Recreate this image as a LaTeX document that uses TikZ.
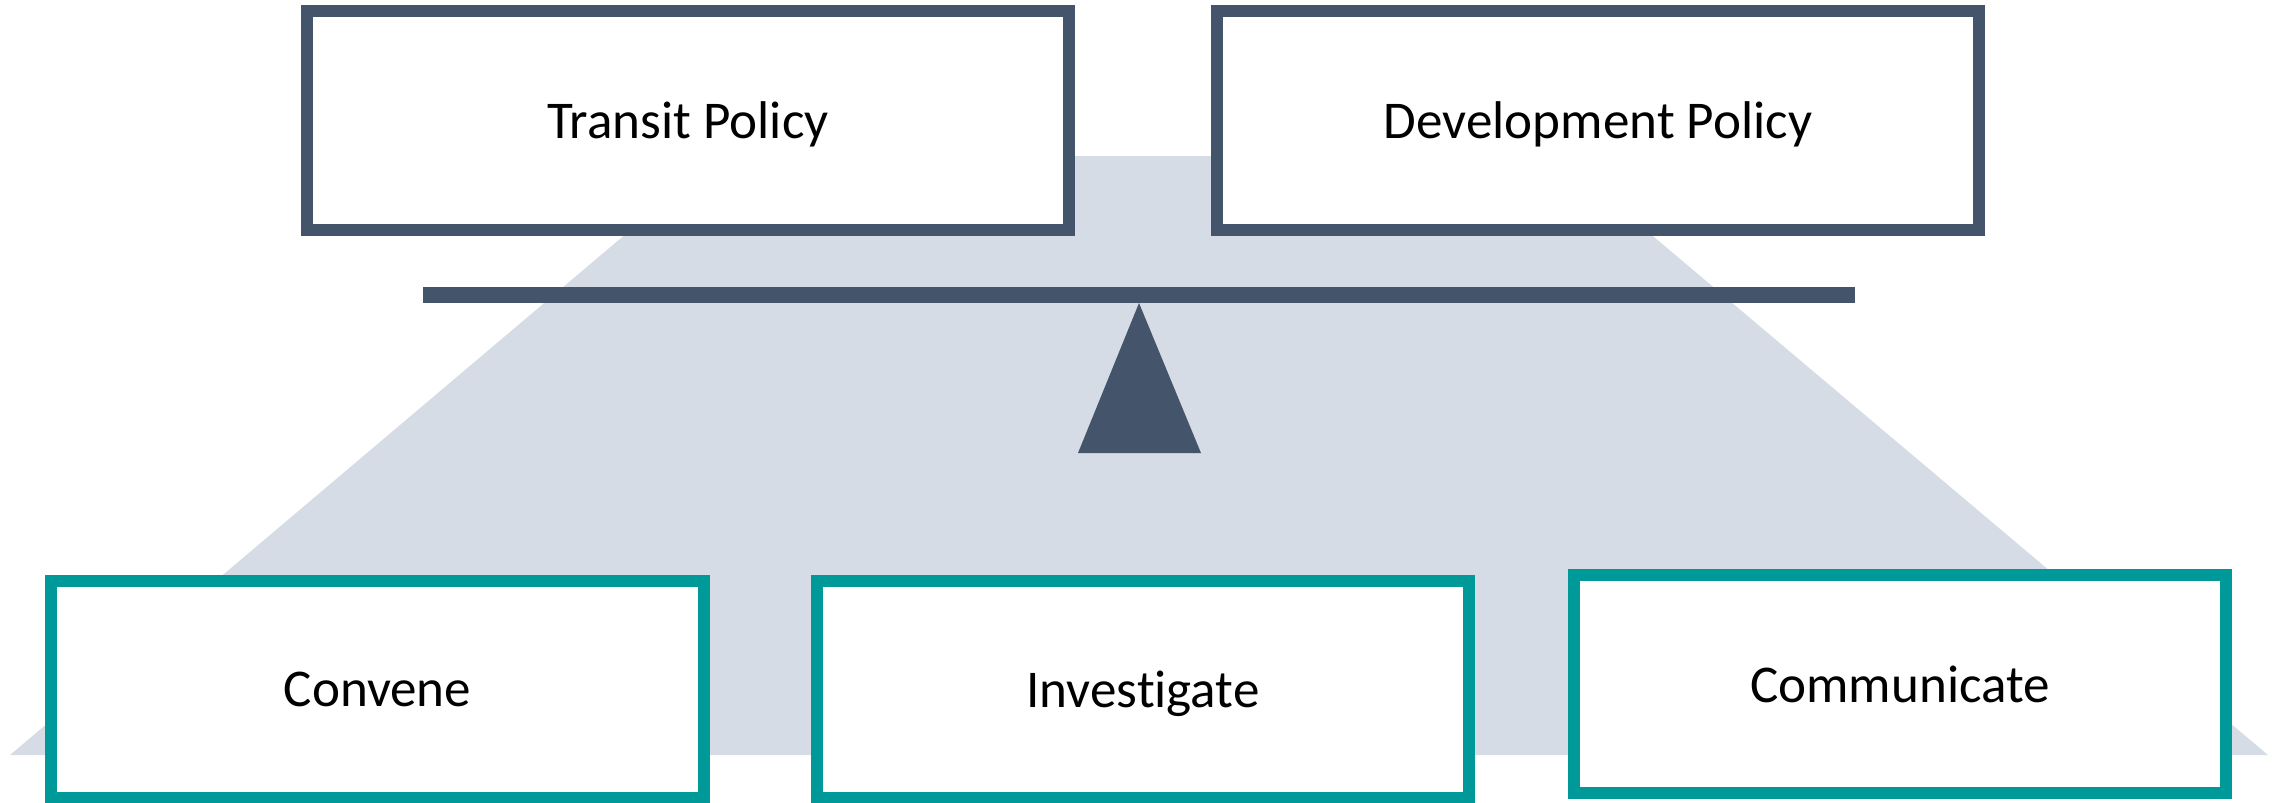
\documentclass[tikz,border=0pt]{standalone}
\usepackage{fontspec}
\setmainfont{Carlito}[Ligatures={NoCommon}]
\definecolor{slate}{HTML}{44546A}
\definecolor{haze}{HTML}{D6DCE5}
\definecolor{tealbox}{HTML}{009999}
\begin{document}
\begin{tikzpicture}[x=0.01cm,y=-0.01cm,
	policy/.style={draw=slate,line width=0.12cm,fill=white,minimum width=7.62cm,minimum height=2.19cm,inner sep=0pt,text depth=0pt,font=\fontsize{15.1}{18}\selectfont},
	action/.style={draw=tealbox,line width=0.12cm,fill=white,minimum width=6.52cm,minimum height=2.17cm,inner sep=0pt,text depth=0pt,font=\fontsize{15.1}{18}\selectfont}]
		\useasboundingbox (0,0) rectangle (2275,802);

		\fill[haze] (718,156) -- (1558,156) -- (2268,755) -- (10,755) -- cycle;
		\fill[slate] (423,287) rectangle (1855,303);
		\fill[slate] (1139,303) -- (1201,453) -- (1078,453) -- cycle;

    		\node[policy] (r1c1) at (688,120.5)  {Transit Policy};
    		\node[policy] (r1c2) at (1598,120.5) {Development Policy};

		\node[action] (r2c1) at (377.5,689.5) {Convene};
		\node[action] (r2c2) at (1143,689.5)  {Investigate};
		\node[action] (r2c3) at (1900,684)    {Communicate};

\end{tikzpicture}
\end{document}
